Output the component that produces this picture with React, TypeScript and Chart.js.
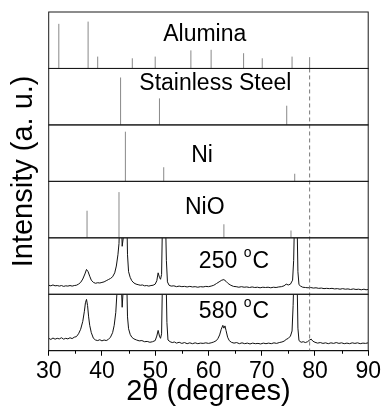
import React, { useEffect, useRef } from 'react';
import { Chart, registerables } from 'chart.js';
Chart.register(...registerables);

const FONT = "'Liberation Sans', Arial, sans-serif";

// ---- reference stick patterns (position in 2θ, relative intensity 0-100 of panel) ----
const aluminaPos = [31.9, 37.4, 39.2, 45.7, 50.0, 56.7, 60.5, 66.6, 70.1, 75.7, 79.0];
const aluminaInt = [79, 83, 21, 18, 21, 32, 33, 27, 18, 21, 20];
const steelPos = [43.5, 50.8, 74.7];
const steelInt = [84, 47, 34];
const niPos = [44.4, 51.6, 76.2];
const niInt = [88, 25, 13.5];
const nioPos = [37.2, 43.2, 62.9, 75.5];
const nioInt = [48, 81, 24, 13];

// ---- measured patterns ----
const x250 = [30.0, 30.4, 30.8, 31.2, 31.6, 32.0, 32.4, 32.8, 33.2, 33.6, 34.0, 34.4, 34.8, 35.2, 35.6, 36.0, 36.4, 36.8, 37.1, 37.4, 37.7, 38.0, 38.4, 38.8, 39.2, 39.6, 40.0, 40.4, 40.8, 41.2, 41.6, 42.0, 42.4, 42.7, 43.0, 43.2, 43.4, 43.6, 43.8, 44.0, 44.2, 44.5, 44.7, 44.8, 45.0, 45.3, 45.6, 46.0, 46.4, 46.8, 47.2, 47.6, 48.0, 48.4, 48.8, 49.2, 49.6, 50.0, 50.3, 50.55, 50.8, 51.0, 51.2, 51.4, 51.6, 51.9, 52.1, 52.3, 52.6, 53.0, 53.5, 54.0, 54.5, 55.0, 55.5, 56.0, 56.5, 57.0, 57.5, 58.0, 58.5, 59.0, 59.5, 60.0, 60.5, 61.0, 61.5, 62.0, 62.5, 62.9, 63.3, 63.7, 64.2, 64.7, 65.2, 65.7, 66.2, 66.7, 67.2, 67.7, 68.2, 68.7, 69.2, 69.7, 70.2, 70.7, 71.2, 71.7, 72.2, 72.7, 73.2, 73.7, 74.2, 74.6, 75.0, 75.4, 75.8, 76.0, 76.2, 76.6, 76.8, 77.0, 77.3, 77.7, 78.2, 78.7, 79.2, 79.7, 80.2, 80.7, 81.2, 81.7, 82.2, 82.7, 83.2, 83.7, 84.2, 84.7, 85.2, 85.7, 86.2, 86.7, 87.2, 87.7, 88.2, 88.7, 89.2, 89.6, 90.0];
const y250 = [16, 15, 16.5, 15, 15.5, 14.5, 15.5, 14, 15, 14.5, 15.5, 14.5, 15.5, 16, 18, 21, 27, 36, 44, 40, 32, 25, 21, 19.5, 20.5, 20, 21, 22, 24, 26, 28, 31, 38, 50, 70, 90, 150, 150, 85, 100, 150, 150, 120, 70, 40, 30, 24, 20, 18, 17, 16, 16.5, 15, 15.5, 14.5, 15.5, 16, 18, 24, 38, 30, 26.6, 35, 150, 150, 150, 60, 22, 16, 14.5, 15, 13.5, 14.5, 13.5, 14, 13, 14, 13, 13.5, 12.5, 13.5, 13, 14, 13.5, 14.5, 16, 19, 22, 25, 26, 23, 19, 16, 14, 13.5, 12.5, 13.5, 12.5, 13, 12, 13, 12, 12.5, 11.5, 12.5, 12, 12.5, 11.5, 12.5, 12, 13, 13.5, 15, 18, 16.5, 18, 25, 60, 150, 150, 40, 17, 14.5, 12.5, 12, 11.5, 12, 11, 11.5, 10.5, 11, 10, 10.5, 10, 10.5, 9.5, 10, 9, 10, 9, 9.5, 8.5, 9.5, 8.5, 9, 8, 9, 8, 8.5];

const x580 = [30.0, 30.4, 30.8, 31.2, 31.6, 32.0, 32.4, 32.8, 33.2, 33.6, 34.0, 34.4, 34.8, 35.2, 35.6, 36.0, 36.4, 36.7, 36.9, 37.1, 37.3, 37.5, 37.7, 38.0, 38.4, 38.8, 39.2, 39.6, 40.0, 40.4, 40.8, 41.2, 41.6, 42.0, 42.3, 42.6, 42.8, 43.0, 43.5, 43.8, 44.0, 44.2, 44.6, 44.8, 45.0, 45.3, 45.6, 46.0, 46.5, 47.0, 47.5, 48.0, 48.5, 49.0, 49.5, 50.0, 50.3, 50.55, 50.8, 51.0, 51.2, 51.4, 51.6, 52.0, 52.2, 52.4, 52.8, 53.2, 53.6, 54.0, 54.5, 55.0, 55.5, 56.0, 56.5, 57.0, 57.5, 58.0, 58.5, 59.0, 59.5, 60.0, 60.5, 61.0, 61.5, 61.8, 62.1, 62.4, 62.7, 62.9, 63.1, 63.3, 63.6, 63.9, 64.3, 64.8, 65.3, 65.8, 66.3, 66.8, 67.3, 67.8, 68.3, 68.8, 69.3, 69.8, 70.3, 70.8, 71.3, 71.8, 72.3, 72.8, 73.3, 73.8, 74.2, 74.6, 75.0, 75.4, 75.7, 75.9, 76.1, 76.6, 76.8, 77.0, 77.4, 77.8, 78.2, 78.6, 79.0, 79.3, 79.6, 80.0, 80.5, 81.0, 81.5, 82.0, 82.5, 83.0, 83.5, 84.0, 84.5, 85.0, 85.5, 86.0, 86.5, 87.0, 87.5, 88.0, 88.5, 89.0, 89.5, 90.0];
const y580 = [22, 20, 22.5, 20.5, 22, 21, 23, 20.5, 22, 21, 23, 21.5, 24, 25, 30, 38, 52, 70, 85, 91, 80, 60, 45, 32, 22, 19, 18, 19.5, 17.5, 19, 18, 20, 24, 32, 45, 68, 100, 150, 150, 77, 110, 150, 150, 60, 39, 29, 24, 21, 19, 17.5, 18, 16, 16.5, 15, 16, 18, 26, 36, 26, 22, 30, 150, 150, 150, 50, 19, 16, 14.5, 15.5, 13.5, 15, 13, 14.5, 12.5, 14, 12.5, 14, 12.5, 13.5, 13, 14, 13, 14, 15.5, 18, 22, 28, 38, 45, 40, 44, 36, 24, 18, 15, 13.5, 14.5, 12.5, 14, 12.5, 13.5, 12, 13.5, 12.5, 13, 12, 13.5, 12.5, 13.5, 12.5, 14, 13, 14.5, 15.5, 17, 20, 22, 26, 35, 80, 150, 150, 40, 18, 15, 16, 14.5, 16, 19, 20.5, 17, 15, 13.5, 14.5, 13, 14, 12.5, 14, 13, 14.5, 13, 14, 12.5, 13.5, 12.5, 14, 13, 14, 12.5, 13.5, 13, 14];

// ---- annotations ----
const panelLabels = ['Alumina', 'Stainless Steel', 'Ni', 'NiO', '250', '580'];
const labelX = [59.3, 61.3, 58.8, 59.3, 58.2, 58.2];
const labelY = [49.4, 61, 33.7, 42.5, 46.4, 57.5];
const tempPanels = [4, 5];
const xMajorTicks = [30, 40, 50, 60, 70, 80, 90];
const xMinorTicks = [35, 45, 55, 65, 75, 85];
const dashedX = 79;

const panelIds = ['p0', 'p1', 'p2', 'p3', 'p4', 'p5'];

function sticks(pos: number[], ints: number[]) {
  const out: any[] = [];
  pos.forEach((p, i) => {
    out.push({ x: p, y: 0 }, { x: p, y: ints[i] }, { x: p, y: null });
  });
  return out;
}
function trace(xs: number[], ys: number[]) {
  return xs.map((x, i) => ({ x, y: ys[i] }));
}

const clipPlugin = {
  id: 'panelClip',
  beforeDatasetDraw(chart: any, args: any) {
    const s = args.meta.yScale;
    const ca = chart.chartArea;
    const ctx = chart.ctx;
    ctx.save();
    ctx.beginPath();
    ctx.rect(ca.left, s.top, ca.right - ca.left, s.bottom - s.top);
    ctx.clip();
  },
  afterDatasetDraw(chart: any) {
    chart.ctx.restore();
  },
};

const decorPlugin = {
  id: 'decor',
  afterDatasetsDraw(chart: any) {
    const ctx = chart.ctx;
    const xs = chart.scales.x;
    const ca = chart.chartArea;
    ctx.save();
    // dashed reference line
    const dx = xs.getPixelForValue(dashedX);
    ctx.strokeStyle = '#777';
    ctx.lineWidth = 1;
    ctx.setLineDash([4, 3]);
    ctx.beginPath();
    ctx.moveTo(dx, chart.scales.p1.top);
    ctx.lineTo(dx, ca.bottom);
    ctx.stroke();
    ctx.setLineDash([]);
    // panel frames
    ctx.strokeStyle = '#1a1a1a';
    panelIds.forEach((id) => {
      const s = chart.scales[id];
      ctx.strokeRect(ca.left, s.top, ca.right - ca.left, s.bottom - s.top);
    });
    // minor ticks
    ctx.strokeStyle = '#000';
    ctx.beginPath();
    xMinorTicks.forEach((v) => {
      const px = Math.round(xs.getPixelForValue(v)) + 0.5;
      ctx.moveTo(px, ca.bottom);
      ctx.lineTo(px, ca.bottom + 3);
    });
    ctx.stroke();
    // panel labels
    ctx.fillStyle = '#000';
    ctx.textBaseline = 'alphabetic';
    panelLabels.forEach((t, i) => {
      const s = chart.scales[panelIds[i]];
      const px = xs.getPixelForValue(labelX[i]);
      const py = s.getPixelForValue(labelY[i]);
      if (tempPanels.includes(i)) {
        ctx.textAlign = 'left';
        ctx.font = `23px ${FONT}`;
        const first = t + ' ';
        ctx.fillText(first, px, py);
        let w = ctx.measureText(first).width;
        ctx.font = `14px ${FONT}`;
        ctx.fillText('o', px + w, py - 11);
        w += ctx.measureText('o').width + 1;
        ctx.font = `23px ${FONT}`;
        ctx.fillText('C', px + w, py);
      } else {
        ctx.textAlign = 'center';
        ctx.font = `23px ${FONT}`;
        ctx.fillText(t, px, py);
      }
    });
    // y title
    ctx.translate(32, (ca.top + ca.bottom) / 2 - 10);
    ctx.rotate(-Math.PI / 2);
    ctx.textAlign = 'center';
    ctx.font = `29px ${FONT}`;
    ctx.fillText('Intensity (a. u.)', 0, 0);
    ctx.restore();
  },
};

export default function App() {
  const ref = useRef<HTMLCanvasElement>(null);
  useEffect(() => {
    const stickStyle = { borderColor: '#888', borderWidth: 1, pointRadius: 0, spanGaps: false, fill: false };
    const traceStyle = { borderColor: '#111', borderWidth: 1, pointRadius: 0, fill: false };
    const yScale = (w: number) => ({
      type: 'linear' as const,
      display: false,
      min: 0,
      max: 100,
      stack: 'panels',
      stackWeight: 1,
      weight: w,
    });
    const chart = new Chart(ref.current!, {
      type: 'line',
      data: {
        datasets: [
          { label: 'Alumina', data: sticks(aluminaPos, aluminaInt), yAxisID: 'p0', ...stickStyle },
          { label: 'Stainless Steel', data: sticks(steelPos, steelInt), yAxisID: 'p1', ...stickStyle },
          { label: 'Ni', data: sticks(niPos, niInt), yAxisID: 'p2', ...stickStyle },
          { label: 'NiO', data: sticks(nioPos, nioInt), yAxisID: 'p3', ...stickStyle },
          { label: '250 °C', data: trace(x250, y250), yAxisID: 'p4', ...traceStyle },
          { label: '580 °C', data: trace(x580, y580), yAxisID: 'p5', ...traceStyle },
        ] as any,
      },
      options: {
        animation: false,
        responsive: false,
        devicePixelRatio: 1,
        layout: { padding: { left: 48.7, top: 12, right: 16.3, bottom: 19.4 } },
        plugins: { legend: { display: false }, tooltip: { enabled: false } },
        elements: { line: { tension: 0 }, point: { radius: 0 } },
        scales: {
          x: {
            type: 'linear',
            position: 'bottom',
            min: 30,
            max: 90,
            afterBuildTicks: (axis: any) => {
              axis.ticks = xMajorTicks.map((v) => ({ value: v }));
            },
            ticks: {
              autoSkip: false,
              maxRotation: 0,
              color: '#000',
              padding: 4,
              font: { family: FONT, size: 23, lineHeight: 1 },
            },
            grid: { display: true, drawOnChartArea: false, drawTicks: true, tickLength: 5, color: '#000', lineWidth: 1 },
            border: { display: true, color: '#000', width: 1 },
            title: {
              display: true,
              text: '2θ (degrees)',
              color: '#000',
              padding: 0,
              font: { family: FONT, size: 29, lineHeight: 0.34 },
            },
          },
          p0: yScale(6),
          p1: yScale(5),
          p2: yScale(4),
          p3: yScale(3),
          p4: yScale(2),
          p5: yScale(1),
        } as any,
      },
      plugins: [clipPlugin, decorPlugin],
    });
    return () => chart.destroy();
  }, []);
  return (
    <div style={{ position: 'absolute', left: 0, top: 0, width: 385, height: 416, background: '#fff' }}>
      <canvas ref={ref} width={385} height={416} style={{ display: 'block', width: 385, height: 416 }} />
    </div>
  );
}
